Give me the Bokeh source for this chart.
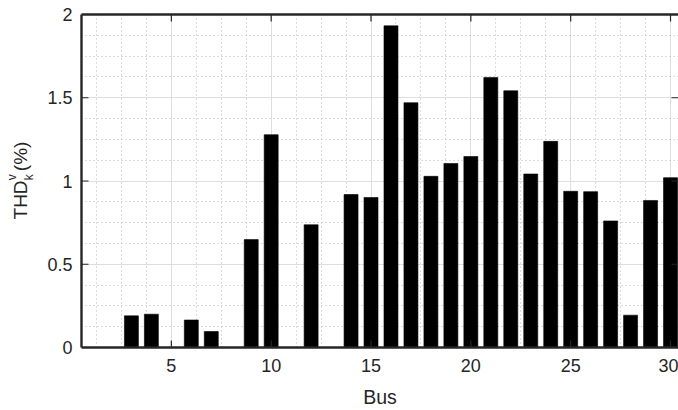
from bokeh.embed import file_html
from bokeh.layouts import row
from bokeh.models import (ColumnDataSource, CustomJSTickFormatter, Label, LinearAxis,
                          Range1d, SingleIntervalTicker)
from bokeh.plotting import figure
from bokeh.resources import INLINE

# Voltage THD per bus (%)
buses = list(range(1, 31))
thd = [0.0, 0.0, 0.19, 0.20, 0.0, 0.165, 0.096, 0.0, 0.648, 1.278,
       0.0, 0.737, 0.0, 0.919, 0.901, 1.932, 1.47, 1.028, 1.105, 1.147,
       1.622, 1.542, 1.042, 1.238, 0.938, 0.936, 0.76, 0.194, 0.883, 1.02]

# tick values on the box edges
x_ticks = [5, 10, 15, 20, 25, 30]
y_ticks = [0, 0.5, 1, 1.5, 2]

FONT = "Liberation Sans"
INK = "#262626"
TITLE_W = 40
X0, X1, Y0, Y1 = 0.5, 30.4, 0, 2
FRAME_W, FRAME_H = 678 - 81, 410 - 14 - 63
TICK_PX = 7

src = ColumnDataSource(data=dict(bus=buses, thd=thd))

p = figure(width=678 - TITLE_W, height=410,
           x_range=Range1d(X0, X1), y_range=Range1d(Y0, Y1),
           output_backend="svg", toolbar_location=None,
           min_border_left=81 - TITLE_W, min_border_right=0,
           min_border_top=14, min_border_bottom=63)
p.outline_line_color = None

xt = SingleIntervalTicker(interval=5, num_minor_ticks=4)
yt = SingleIntervalTicker(interval=0.5, num_minor_ticks=4)

def style_axis(ax, ticker):
    ax.ticker = ticker
    ax.axis_line_color = INK
    ax.axis_line_width = 2.4
    ax.major_tick_line_color = None
    ax.minor_tick_line_color = None
    ax.major_tick_in = 0
    ax.major_tick_out = 0
    ax.minor_tick_in = 0
    ax.minor_tick_out = 0
    ax.major_label_text_font = FONT
    ax.major_label_text_font_size = "18px"
    ax.major_label_text_color = INK

style_axis(p.xaxis[0], xt)
style_axis(p.yaxis[0], yt)
p.xaxis[0].major_label_standoff = 11
p.yaxis[0].major_label_standoff = 9
p.xaxis[0].axis_label = "Bus"
p.xaxis[0].axis_label_text_font = FONT
p.xaxis[0].axis_label_text_font_size = "19.5px"
p.xaxis[0].axis_label_text_font_style = "normal"
p.xaxis[0].axis_label_text_color = INK
p.xaxis[0].axis_label_standoff = 11

# top edge of the box
top = LinearAxis()
style_axis(top, SingleIntervalTicker(interval=5, num_minor_ticks=0))
top.formatter = CustomJSTickFormatter(code="return ''")
top.major_label_standoff = 0
p.add_layout(top, "above")

for g, t in ((p.xgrid[0], xt), (p.ygrid[0], yt)):
    g.ticker = t
    g.grid_line_color = "#dedede"
    g.minor_grid_line_color = "#b8b8b8"
    g.minor_grid_line_dash = "1 3"

p.vbar(x="bus", top="thd", bottom=0, width=0.7, source=src,
       fill_color="black", line_color="black", line_width=0.6)

# inward tick marks on the box edges
ty = TICK_PX * (Y1 - Y0) / FRAME_H
tx = TICK_PX * (X1 - X0) / FRAME_W
tick_style = dict(line_color=INK, line_width=1.2)
p.segment(x0=x_ticks, x1=x_ticks, y0=[Y0] * len(x_ticks), y1=[Y0 + ty] * len(x_ticks), **tick_style)
p.segment(x0=x_ticks, x1=x_ticks, y0=[Y1 - ty] * len(x_ticks), y1=[Y1] * len(x_ticks), **tick_style)
p.segment(x0=[X0] * len(y_ticks), x1=[X0 + tx] * len(y_ticks), y0=y_ticks, y1=y_ticks, **tick_style)
p.segment(x0=[X1 - tx] * len(y_ticks), x1=[X1] * len(y_ticks), y0=y_ticks, y1=y_ticks, **tick_style)

# narrow strip holding the y-axis title: THD with superscript v and subscript k, then (%)
# (its frame lines up vertically with the main plot, so it shares the 0..2 y range)
t = figure(width=TITLE_W, height=410, x_range=Range1d(0, TITLE_W), y_range=Range1d(Y0, Y1),
           output_backend="svg", toolbar_location=None,
           x_axis_type=None, y_axis_type=None,
           min_border_left=0, min_border_right=0,
           min_border_top=14, min_border_bottom=63)
t.outline_line_color = None
t.xgrid.visible = False
t.ygrid.visible = False
lab = dict(angle=90, angle_units="deg", text_font=FONT, text_color=INK,
           text_baseline="middle", text_align="left")
t.add_layout(Label(x=20, y=0.769, text="THD", text_font_size="19px", **lab))
t.add_layout(Label(x=11, y=1.004, text="v", text_font_size="12px", **lab))
t.add_layout(Label(x=28, y=1.004, text="k", text_font_size="12px", **lab))
t.add_layout(Label(x=20, y=1.059, text="(%)", text_font_size="19px", **lab))

layout = row(t, p, spacing=0)
open("out.html", "w").write(file_html(layout, INLINE))
